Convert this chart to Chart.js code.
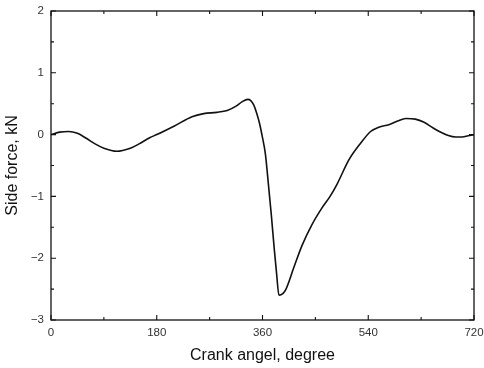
<!DOCTYPE html>
<html>
<head>
<meta charset="utf-8">
<script src="https://cdn.jsdelivr.net/npm/chart.js@4"></script>
<style>
  html, body { margin: 0; padding: 0; background: #fff; }
  #wrap { width: 484px; height: 368px; }
</style>
</head>
<body>
<div id="wrap"><canvas id="sideForce"></canvas></div>
<script>
// crank angle (deg) and side force (kN)
const angles = [0, 15, 30, 45, 60, 75, 90, 112, 135, 150, 168, 180, 210, 240, 260, 282, 300, 315, 325, 335,
  340, 345, 350, 355, 360, 365, 370, 375, 380, 384, 388, 395, 400, 413, 427, 444, 461, 475, 487, 507,
  527, 544, 558, 575, 590, 604, 620, 635, 650, 661, 675, 689, 700, 710, 720];
const sideForce = [0.0, 0.04, 0.05, 0.02, -0.06, -0.15, -0.22, -0.27, -0.22, -0.15, -0.05, 0.0, 0.14, 0.29, 0.34, 0.36, 0.39, 0.46, 0.53, 0.57,
  0.55, 0.48, 0.35, 0.18, -0.05, -0.32, -0.8, -1.3, -1.85, -2.25, -2.6, -2.57, -2.5, -2.16, -1.8, -1.46, -1.19, -1.0, -0.8, -0.41,
  -0.14, 0.05, 0.12, 0.16, 0.22, 0.26, 0.25, 0.2, 0.11, 0.05, -0.01, -0.04, -0.04, -0.02, 0.0];
const xMajor = [0, 180, 360, 540, 720];
const xMinor = [90, 270, 450, 630];
const yMajor = [-3, -2, -1, 0, 1, 2];
const yMinor = [-2.5, -1.5, -0.5, 0.5, 1.5];

const pts = angles.map((a, i) => ({ x: a, y: sideForce[i] }));
const fontFam = 'Liberation Sans, Arial, sans-serif';

// frame with inward ticks on all four sides
const framePlugin = {
  id: 'frame',
  afterDatasetsDraw(chart) {
    const { ctx, chartArea: a, scales } = chart;
    ctx.save();
    ctx.strokeStyle = '#111';
    ctx.lineWidth = 1.3;
    ctx.strokeRect(a.left, a.top, a.right - a.left, a.bottom - a.top);
    ctx.lineWidth = 1.1;
    ctx.beginPath();
    const xt = (v, len) => {
      const px = scales.x.getPixelForValue(v);
      ctx.moveTo(px, a.bottom); ctx.lineTo(px, a.bottom - len);
      ctx.moveTo(px, a.top); ctx.lineTo(px, a.top + len);
    };
    const yt = (v, len) => {
      const py = scales.y.getPixelForValue(v);
      ctx.moveTo(a.left, py); ctx.lineTo(a.left + len, py);
      ctx.moveTo(a.right, py); ctx.lineTo(a.right - len, py);
    };
    xMajor.forEach(v => xt(v, 5));
    xMinor.forEach(v => xt(v, 3));
    yMajor.forEach(v => yt(v, 5));
    yMinor.forEach(v => yt(v, 3));
    ctx.stroke();
    ctx.restore();
  }
};

new Chart(document.getElementById('sideForce'), {
  type: 'line',
  data: {
    datasets: [{
      data: pts,
      borderColor: '#111',
      borderWidth: 1.6,
      pointRadius: 0,
      fill: false,
      cubicInterpolationMode: 'monotone'
    }]
  },
  options: {
    responsive: true,
    maintainAspectRatio: false,
    animation: false,
    layout: { padding: { left: 0, right: 10, top: 11, bottom: 0 } },
    plugins: { legend: { display: false }, tooltip: { enabled: false } },
    scales: {
      x: {
        type: 'linear',
        min: 0, max: 720,
        afterFit: s => { s.height = 48; s.paddingLeft = 0; s.paddingRight = 0; },
        grid: { display: false, drawTicks: false },
        border: { display: false },
        ticks: {
          stepSize: 180,
          padding: 6,
          color: '#333',
          font: { family: fontFam, size: 11.5 }
        },
        title: {
          display: true,
          text: 'Crank angel, degree',
          color: '#111',
          padding: { top: 0, bottom: 3 },
          font: { family: fontFam, size: 16 }
        }
      },
      y: {
        min: -3, max: 2,
        afterFit: s => { s.width = 51; s.paddingTop = 0; s.paddingBottom = 0; },
        grid: { display: false, drawTicks: false },
        border: { display: false },
        ticks: {
          stepSize: 1,
          padding: 7,
          color: '#333',
          font: { family: fontFam, size: 11.5 },
          callback: v => (v < 0 ? '\u2212' + Math.abs(v) : String(v))
        },
        title: {
          display: true,
          text: 'Side force, kN',
          color: '#111',
          padding: { top: 3, bottom: 0 },
          font: { family: fontFam, size: 16 }
        }
      }
    }
  },
  plugins: [framePlugin]
});
</script>
</body>
</html>
